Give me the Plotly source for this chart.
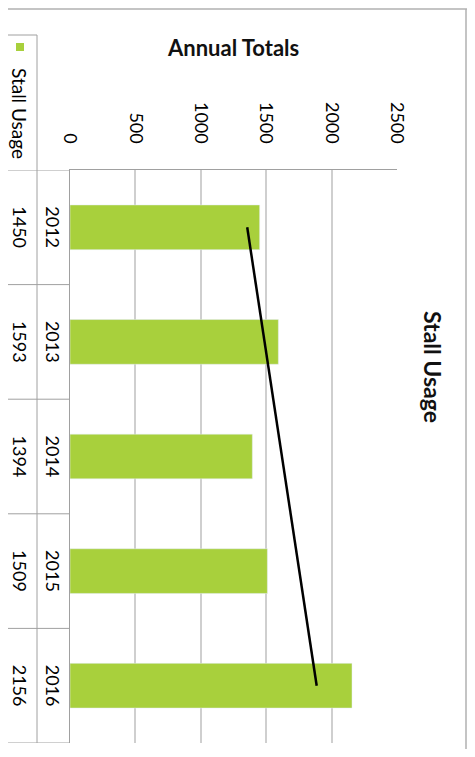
"""Stall Usage - annual totals (rotated column chart with data table)."""

import numpy as np
import plotly.graph_objects as go

YEARS = ["2012", "2013", "2014", "2015", "2016"]
STALL_USAGE = [1450, 1593, 1394, 1509, 2156]
X_TICKS = [0, 500, 1000, 1500, 2000, 2500]

GREEN = "#a8d03c"
GRID = "#cfcfcf"
FONT = "Lato, 'Open Sans', sans-serif"

# the page body adds an 8px margin, so shift everything up/left by 8
OFF = 8
W, H = 475 - OFF - 8, 757 - OFF - 8
L, R, T, B = 70 - OFF, 397 - OFF, 170 - OFF, 743 - OFF  # plot box


def px(x):
    return (x - OFF - L) / (R - L)


def py(y):
    return (B - (y - OFF)) / (B - T)


# linear trendline (least squares, as Excel does)
idx = np.arange(len(STALL_USAGE))
slope, icpt = np.polyfit(idx, STALL_USAGE, 1)
trend = slope * idx + icpt

fig = go.Figure()
fig.add_trace(go.Bar(
    x=STALL_USAGE, y=YEARS, orientation="h", marker_color=GREEN,
    name="Stall Usage",
))
fig.add_trace(go.Scatter(
    x=trend, y=YEARS, mode="lines", line={"color": "black", "width": 2.5},
    name="Trend",
))

shapes = []
line = {"color": "#a0a0a0", "width": 1}
# table row separators
for i in range(len(YEARS) + 1):
    shapes.append(dict(type="line", xref="paper", yref="y", x0=px(3), x1=0,
                       y0=i - 0.5, y1=i - 0.5, line=line))
# table vertical borders
shapes.append(dict(type="line", xref="paper", yref="paper", x0=px(3), x1=px(3),
                   y0=0, y1=py(35), line=line))
shapes.append(dict(type="line", xref="paper", yref="paper", x0=px(37), x1=px(37),
                   y0=0, y1=py(35), line=line))
shapes.append(dict(type="line", xref="paper", yref="paper", x0=px(3), x1=px(37),
                   y0=py(35), y1=py(35), line=line))
# legend key
shapes.append(dict(type="rect", xref="paper", yref="paper", x0=px(16), x1=px(24),
                   y0=py(51), y1=py(43), fillcolor=GREEN, line={"width": 0}))
# outer chart border
shapes.append(dict(type="line", xref="paper", yref="paper", x0=px(0), x1=px(467),
                   y0=py(9), y1=py(9), line={"color": "#b0b0b0", "width": 1.5}))
shapes.append(dict(type="line", xref="paper", yref="paper", x0=px(466), x1=px(466),
                   y0=py(9), y1=py(757), line={"color": "#b0b0b0", "width": 1.5}))

center = {"xanchor": "center", "yanchor": "middle", "showarrow": False}
annotations = []
for i, (yr, val) in enumerate(zip(YEARS, STALL_USAGE)):
    annotations.append(dict(x=px(53), xref="paper", y=i, yref="y", text=yr,
                            textangle=90, font={"size": 18, "color": "black"}, **center))
    annotations.append(dict(x=px(20), xref="paper", y=i, yref="y", text=str(val),
                            textangle=90, font={"size": 18, "color": "black"}, **center))
annotations.append(dict(x=px(20), y=py(113), xref="paper", yref="paper",
                        text="Stall Usage", textangle=90,
                        font={"size": 19, "color": "black"}, **center))
annotations.append(dict(x=px(233), y=py(47), xref="paper", yref="paper",
                        text="<b>Annual Totals</b>",
                        font={"size": 22, "color": "#111"}, **center))
annotations.append(dict(x=px(433), y=py(367), xref="paper", yref="paper",
                        text="<b>Stall Usage</b>", textangle=90,
                        font={"size": 23, "color": "#111"}, **center))

fig.update_layout(
    width=W, height=H,
    margin={"l": L, "r": W - R, "t": T, "b": H - B, "autoexpand": False},
    paper_bgcolor="white", plot_bgcolor="white",
    font={"family": FONT, "color": "black"},
    showlegend=False, bargap=0.61,
    shapes=shapes, annotations=annotations,
    xaxis=dict(side="top", range=[0, 2500], tickvals=X_TICKS, tickangle=90,
               showgrid=True, gridcolor=GRID, gridwidth=1.5, zeroline=False,
               showline=True, linecolor="#a0a0a0", ticks="",
               ticklabelstandoff=19, tickfont={"size": 18, "color": "black"}),
    yaxis=dict(type="category", range=[len(YEARS) - 0.5, -0.5], showticklabels=False,
               showgrid=False, showline=True, linecolor="#a0a0a0", ticks=""),
)

fig.write_html("out.html")
